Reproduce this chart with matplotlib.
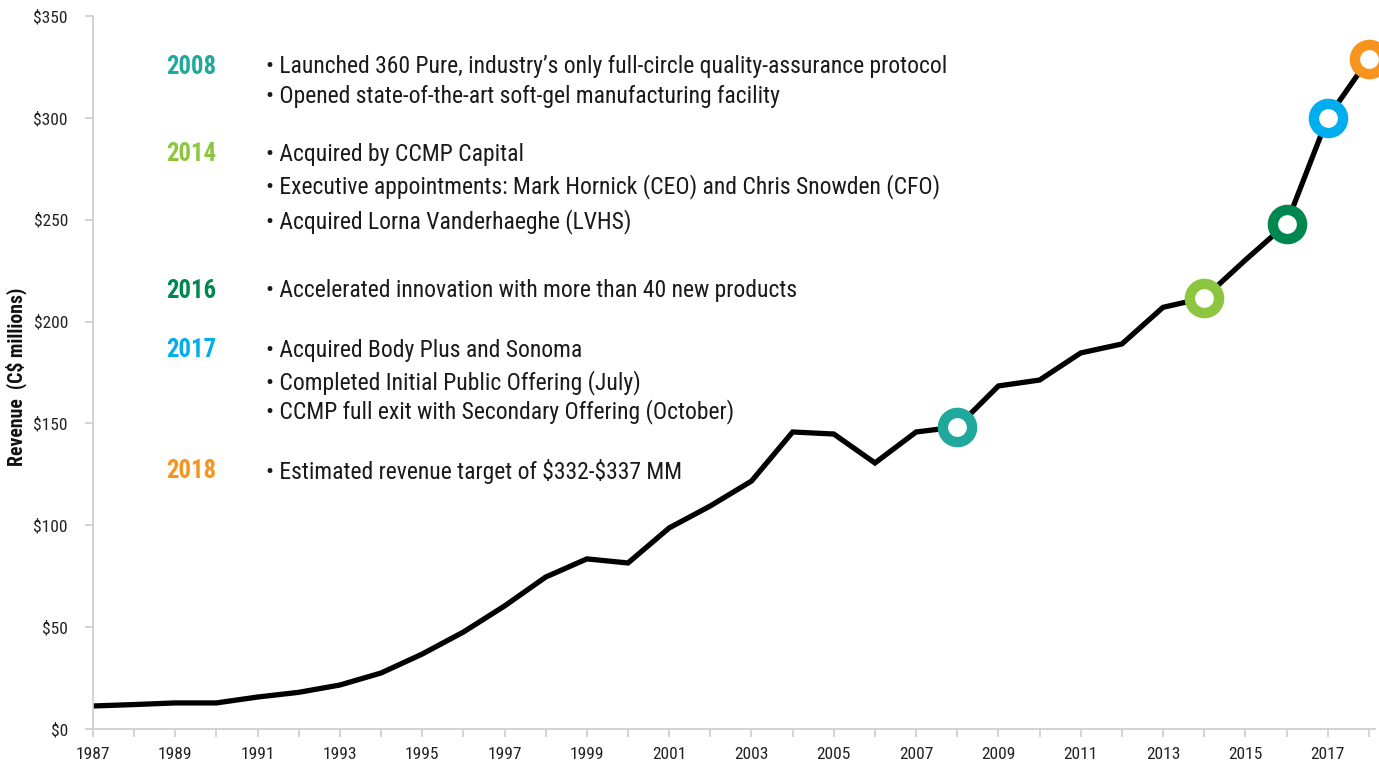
import matplotlib
matplotlib.use("Agg")
import matplotlib.pyplot as plt
from matplotlib import font_manager as fm

weights = {}
for f in fm.fontManager.ttflist:
    if f.style == "normal":
        weights.setdefault(f.name, set()).add(f.weight)
prefs = ["Liberation Sans Narrow", "Roboto Condensed", "Archivo Narrow", "PT Sans Narrow",
         "Pragati Narrow", "Open Sans Condensed", "Barlow Semi Condensed", "Arimo"]


def has_bold(n):
    ws = weights.get(n, set())
    return any((w if isinstance(w, int) else 700 if w == "bold" else 400) >= 700 for w in ws)


NARROW = next((p for p in prefs if p in weights and has_bold(p)), "DejaVu Sans")
plt.rcParams['font.family'] = [NARROW, 'DejaVu Sans']

years = list(range(1987, 2019))
revenue = [11.3, 12.0, 12.8, 12.8, 15.7, 18.0, 21.6, 27.5, 36.8, 47.6, 60.4, 74.6,
           83.5, 81.5, 98.7, 109.5, 121.7, 145.8, 144.8, 130.6, 145.8, 148.3,
           168.4, 171.3, 184.6, 189.0, 207.0, 211.6, 230.2, 248.0, 300.0, 329.0]

milestone_years = [2008, 2014, 2016, 2017, 2018]
milestone_colors = ["#1FA99C", "#8CC63F", "#00874F", "#00AEEF", "#F7941D"]
milestone_notes = [
    ["Launched 360 Pure, industry\u2019s only full-circle quality-assurance protocol",
     "Opened state-of-the-art soft-gel manufacturing facility"],
    ["Acquired by CCMP Capital",
     "Executive appointments: Mark Hornick (CEO) and Chris Snowden (CFO)",
     "Acquired Lorna Vanderhaeghe (LVHS)"],
    ["Accelerated innovation with more than 40 new products"],
    ["Acquired Body Plus and Sonoma",
     "Completed Initial Public Offering (July)",
     "CCMP full exit with Secondary Offering (October)"],
    ["Estimated revenue target of \\$332-\\$337 MM"],
]
yticks = [0, 50, 100, 150, 200, 250, 300, 350]

W, H = 1379, 760
fig = plt.figure(figsize=(W / 100, H / 100), dpi=100)
renderer = fig.canvas.get_renderer()


def fit_size(text, target_px, weight="normal", base=10.0):
    t = fig.text(0, 0, text, fontsize=base, fontweight=weight)
    w = t.get_window_extent(renderer).width
    t.remove()
    return base * target_px / w


note_fs = fit_size("\u2022 " + milestone_notes[0][0], 678)
year_fs = fit_size("2008", 50, weight="bold")
tick_fs = fit_size("1987", 34)
ylab_fs = fit_size("Revenue  (C$ millions)", 178, weight="bold")

ax = fig.add_axes([93 / W, 1 - 729 / H, (1375 - 93) / W, (729 - 16) / H])

ax.plot(years, revenue, color="black", lw=3.8, solid_joinstyle="miter", zorder=2)
for yr, col in zip(milestone_years, milestone_colors):
    v = revenue[years.index(yr)]
    ax.plot([yr], [v], marker="o", ms=21, mew=7.5, mfc="white", mec=col,
            zorder=3, clip_on=False)

ax.set_xlim(1987, 2018.15)
ax.set_ylim(0, 350)
ax.set_yticks(yticks)
ax.set_yticklabels([f"${t}" for t in yticks])
ax.set_xticks(years)
ax.set_xticklabels([str(y) if (y - 1987) % 2 == 0 else "" for y in years])
for s in ["top", "right"]:
    ax.spines[s].set_visible(False)
for s in ["left", "bottom"]:
    ax.spines[s].set_color("#d0d0d0")
    ax.spines[s].set_linewidth(1.3)
ax.tick_params(axis="both", colors="#d0d0d0", labelcolor="#222222", labelsize=tick_fs,
               length=6, width=1.3)
ax.tick_params(axis="x", pad=7)
ax.tick_params(axis="y", pad=12)
ax.set_ylabel("Revenue  (C$ millions)", fontsize=ylab_fs, fontweight="bold",
              color="#111111")
ax.yaxis.set_label_coords(-(93 - 27) / (1375 - 93), (729 - 377) / (729 - 16))

line_y = [[67, 96], [154, 187, 222], [291], [350, 383, 412], [471]]
for yr, col, notes, ys in zip(milestone_years, milestone_colors, milestone_notes, line_y):
    fig.text(191 / W, 1 - ys[0] / H, str(yr), color=col, fontsize=year_fs,
             fontweight="bold", ha="center", va="center")
    for note, yy in zip(notes, ys):
        fig.text(266 / W, 1 - yy / H, "\u2022 " + note, color="#1a1a1a",
                 fontsize=note_fs, ha="left", va="center")

fig.savefig("out.png", dpi=100)
